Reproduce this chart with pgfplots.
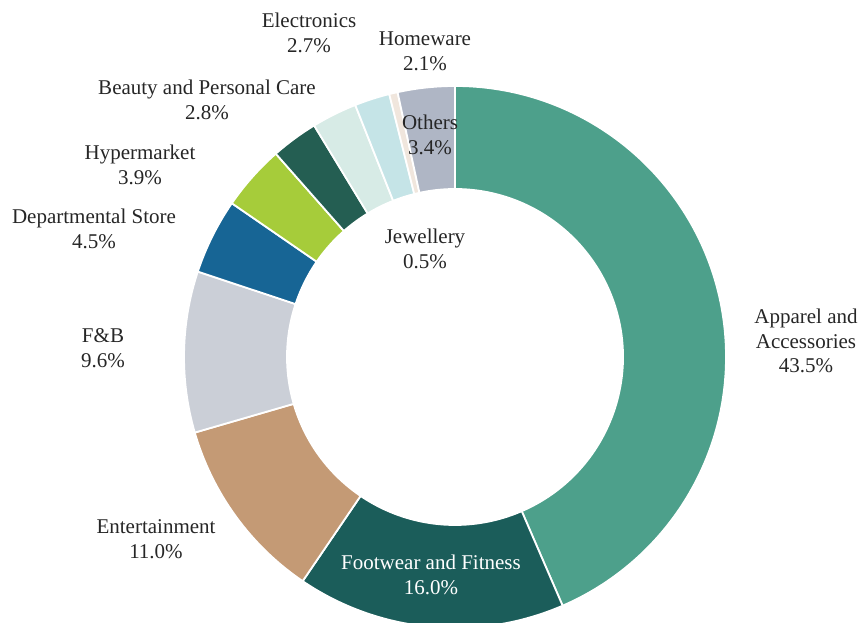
\documentclass[border=0pt]{standalone}
\usepackage{pgfplots}
\pgfplotsset{compat=1.18}
\usepackage{pgfplotstable}
\usepackage{fontspec}
\setmainfont{Liberation Serif}

\definecolor{cApparel}{HTML}{4DA08B}
\definecolor{cFootwear}{HTML}{1B5D5A}
\definecolor{cEntertain}{HTML}{C49A75}
\definecolor{cFB}{HTML}{CBCFD7}
\definecolor{cDept}{HTML}{176595}
\definecolor{cHyper}{HTML}{A6CC3A}
\definecolor{cBeauty}{HTML}{245E52}
\definecolor{cElec}{HTML}{D7EBE6}
\definecolor{cHome}{HTML}{C5E4E7}
\definecolor{cJewel}{HTML}{F0E6DD}
\definecolor{cOthers}{HTML}{AFB6C5}
\definecolor{labelgray}{HTML}{262626}

% share by category (%), clockwise from 12 o'clock
\pgfplotstableread{
value col
43.5 cApparel
16.0 cFootwear
11.0 cEntertain
9.6  cFB
4.5  cDept
3.9  cHyper
2.8  cBeauty
2.7  cElec
2.1  cHome
0.5  cJewel
3.4  cOthers
}\sharedata

\def\cx{455}
\def\cy{266}
\def\Rout{271pt}
\def\Rin{168pt}
\def\Rgap{-103pt}

\begin{document}
\begin{tikzpicture}[every node/.style={inner sep=0pt, align=center, text=labelgray,
    font=\fontsize{21}{24.8}\selectfont}]
\begin{axis}[
  x=1pt, y=1pt,
  xmin=0, xmax=859, ymin=0, ymax=623,
  hide axis,
]
\coordinate (ll) at (axis cs:0,0);
\coordinate (ur) at (axis cs:859,623);
\xdef\cum{0}
\pgfplotsinvokeforeach{0,...,10}{
  \pgfplotstablegetelem{#1}{value}\of\sharedata
  \let\val\pgfplotsretval
  \pgfplotstablegetelem{#1}{col}\of\sharedata
  \let\col\pgfplotsretval
  \pgfmathsetmacro\sa{90-3.6*\cum}
  \pgfmathsetmacro\ea{90-3.6*(\cum+\val)}
  \pgfmathsetmacro\tmp{\cum+\val}
  \xdef\cum{\tmp}
  \edef\piewedge{\noexpand\fill[\col, draw=white, line width=1.8pt, line join=round]
    (axis cs:\cx,\cy) ++(\sa:\Rout) arc[start angle=\sa, end angle=\ea, radius=\Rout]
    -- ++(\ea:\Rgap) arc[start angle=\ea, end angle=\sa, radius=\Rin] -- cycle;}
  \piewedge
}

\node at (axis cs:806,282) {Apparel and\\Accessories\\43.5\%};
\node[text=white] at (axis cs:431,48.5) {Footwear and Fitness\\16.0\%};
\node at (axis cs:156,83.5) {Entertainment\\11.0\%};
\node at (axis cs:103,274.5) {F\&B\\9.6\%};
\node at (axis cs:94,394) {Departmental Store\\4.5\%};
\node at (axis cs:140,458.5) {Hypermarket\\3.9\%};
\node at (axis cs:207,523) {Beauty and Personal Care\\2.8\%};
\node at (axis cs:309,590.5) {Electronics\\2.7\%};
\node at (axis cs:425,571.5) {Homeware\\2.1\%};
\node at (axis cs:430,488) {Others\\3.4\%};
\node at (axis cs:425,374) {Jewellery\\0.5\%};
\end{axis}
\pgfresetboundingbox
\path (ll) rectangle (ur);
\end{tikzpicture}
\end{document}
